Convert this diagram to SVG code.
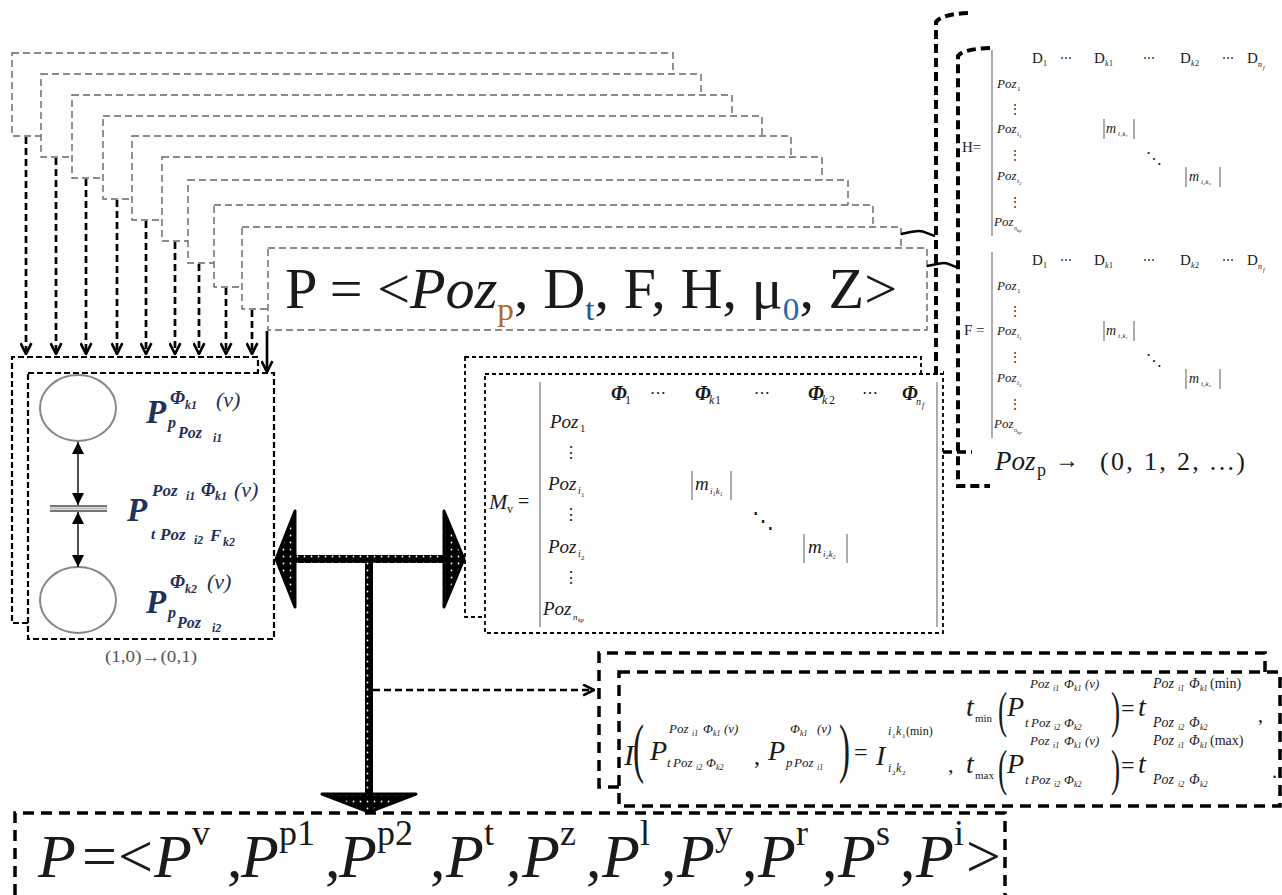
<svg xmlns="http://www.w3.org/2000/svg" width="1282" height="895" viewBox="0 0 1282 895">
<defs>
<style>
text{font-family:"Liberation Serif","DejaVu Serif",serif;fill:#1a1a1a}
.it{font-style:italic}
.b{font-weight:bold}
.nest{fill:#fff;stroke:#666;stroke-width:1.4;stroke-dasharray:7 4}
.arr{fill:none;stroke:#000;stroke-width:2.7;stroke-dasharray:7 4;marker-end:url(#v)}
.pbox{fill:#fff;stroke:#000;stroke-width:2.2;stroke-dasharray:6 3}
.mbox{fill:#fff;stroke:#000;stroke-width:1.8;stroke-dasharray:4 3}
.ibox{fill:#fff;stroke:#000;stroke-width:3.5;stroke-dasharray:11 7}
.brk{fill:none;stroke:#000;stroke-width:4;stroke-dasharray:9 5}
.bar{stroke:#777;stroke-width:1.2}
.pl text{fill:#22305a}
.sq{fill:none;stroke:#000;stroke-width:2.5}
.bf{font-size:62px}
.bf .s{font-size:36px}
</style>
<marker id="v" viewBox="0 0 12 12" refX="11" refY="6" markerWidth="13" markerHeight="13" markerUnits="userSpaceOnUse" orient="auto"><path d="M1,1 L11,6 L1,11" fill="none" stroke="#000" stroke-width="2.4"/></marker>
<marker id="tri" viewBox="0 0 10 10" refX="10" refY="5" markerWidth="12" markerHeight="12" markerUnits="userSpaceOnUse" orient="auto-start-reverse"><path d="M0,0 L10,5 L0,10Z" fill="#000"/></marker>
<pattern id="dots" width="7" height="7" patternUnits="userSpaceOnUse"><rect width="7" height="7" fill="#000"/><circle cx="3.5" cy="3.5" r="0.9" fill="#fff"/></pattern>
<g id="dm">
<line class="bar" x1="992" y1="252" x2="992" y2="438"/>
<text x="1032" y="265" font-size="15">D</text><text x="1043" y="268" font-size="8">1</text>
<text x="1060" y="264" font-size="12">⋯</text>
<text x="1094" y="265" font-size="15">D</text><text x="1105" y="268" font-size="8" class="it">k</text><text x="1109" y="268" font-size="8">1</text>
<text x="1143" y="264" font-size="12">⋯</text>
<text x="1180" y="265" font-size="15">D</text><text x="1191" y="268" font-size="8" class="it">k</text><text x="1195" y="268" font-size="8">2</text>
<text x="1222" y="264" font-size="12">⋯</text>
<text x="1247" y="265" font-size="15">D</text><text x="1258" y="269" font-size="8" class="it">n</text><text x="1263" y="272" font-size="6" class="it">f</text>
<text x="997" y="290" font-size="13" class="it">Poz</text><text x="1017" y="293" font-size="7">1</text>
<text x="1009" y="315" font-size="12">⋮</text>
<text x="997" y="335" font-size="13" class="it">Poz</text><text x="1017" y="338" font-size="7" class="it">i</text><text x="1019" y="340" font-size="5">1</text>
<text x="1009" y="361" font-size="12">⋮</text>
<text x="997" y="382" font-size="13" class="it">Poz</text><text x="1017" y="385" font-size="7" class="it">i</text><text x="1019" y="387" font-size="5">2</text>
<text x="1009" y="408" font-size="12">⋮</text>
<text x="994" y="428" font-size="13" class="it">Poz</text><text x="1014" y="432" font-size="6" class="it">n</text><text x="1017" y="434" font-size="5" class="it">kp</text>
<line class="bar" x1="1104" y1="321" x2="1104" y2="341"/><line class="bar" x1="1134" y1="321" x2="1134" y2="341"/>
<text x="1106" y="335" font-size="14" class="it">m</text><text x="1118" y="338" font-size="7" class="it">i₁k₁</text>
<text x="1146" y="366" font-size="16">⋱</text>
<line class="bar" x1="1186" y1="369" x2="1186" y2="389"/><line class="bar" x1="1220" y1="369" x2="1220" y2="389"/>
<text x="1189" y="383" font-size="14" class="it">m</text><text x="1201" y="386" font-size="7" class="it">i₂k₂</text>
</g>
</defs>

<g id="nested">
<rect class="nest" x="12" y="53" width="661" height="83"/>
<rect class="nest" x="41" y="74" width="660" height="83"/>
<rect class="nest" x="72" y="95" width="660" height="83"/>
<rect class="nest" x="103" y="116" width="659" height="83"/>
<rect class="nest" x="132" y="136" width="659" height="84"/>
<rect class="nest" x="162" y="157" width="660" height="84"/>
<rect class="nest" x="188" y="180" width="660" height="83"/>
<rect class="nest" x="214" y="205" width="659" height="82"/>
<rect class="nest" x="242" y="227" width="659" height="82"/>
</g>

<g id="pformula">
<rect class="nest" x="268" y="248" width="659" height="82"/>
<text x="285" y="308" font-size="56" textLength="612" lengthAdjust="spacingAndGlyphs">P = &lt;<tspan class="it">Poz</tspan><tspan font-size="32" dy="12" fill="#b06a2a">p</tspan><tspan dy="-12">, D</tspan><tspan font-size="32" dy="12" fill="#2a4f8f">t</tspan><tspan dy="-12">, F, H, μ</tspan><tspan font-size="32" dy="12" fill="#2a63b0">0</tspan><tspan dy="-12">, Z&gt;</tspan></text>
</g>

<g id="petri" class="pl">
<path class="pbox" d="M28,623 H12 V357 H258 V373"/>
<rect class="pbox" x="28" y="373" width="246" height="266"/>
<ellipse cx="78" cy="408" rx="38" ry="33" fill="none" stroke="#888" stroke-width="2"/>
<ellipse cx="78" cy="600" rx="38" ry="33" fill="none" stroke="#888" stroke-width="2"/>
<line x1="50" y1="506" x2="107" y2="506" stroke="#777" stroke-width="2"/>
<line x1="50" y1="511" x2="107" y2="511" stroke="#777" stroke-width="2"/>
<line x1="50" y1="508.5" x2="107" y2="508.5" stroke="#bbb" stroke-width="2"/>
<line x1="78" y1="442" x2="78" y2="505" stroke="#222" stroke-width="1.6" marker-start="url(#tri)" marker-end="url(#tri)"/>
<line x1="78" y1="512" x2="78" y2="567" stroke="#222" stroke-width="1.6" marker-start="url(#tri)" marker-end="url(#tri)"/>
<text x="146" y="423" font-size="33" class="it b">P</text>
<text x="170" y="404" font-size="19" class="it b">Φ</text><text x="185" y="409" font-size="12" class="it b">k1</text><text x="216" y="407" font-size="22" class="it">(ν)</text>
<text x="168" y="428" font-size="16" class="it b">p</text><text x="178" y="438" font-size="16" class="it b">Poz</text><text x="213" y="442" font-size="12" class="it b">i1</text>
<text x="127" y="521" font-size="33" class="it b">P</text>
<text x="152" y="496" font-size="17" class="it b">Poz</text><text x="186" y="500" font-size="12" class="it b">i1</text><text x="201" y="496" font-size="18" class="it b">Φ</text><text x="215" y="500" font-size="12" class="it b">k1</text><text x="234" y="497" font-size="22" class="it">(ν)</text>
<text x="151" y="539" font-size="15" class="it b">t</text><text x="160" y="540" font-size="17" class="it b">Poz</text><text x="194" y="544" font-size="12" class="it b">i2</text><text x="210" y="541" font-size="17" class="it b">F</text><text x="223" y="546" font-size="12" class="it b">k2</text>
<text x="146" y="613" font-size="33" class="it b">P</text>
<text x="170" y="588" font-size="19" class="it b">Φ</text><text x="185" y="593" font-size="12" class="it b">k2</text><text x="207" y="589" font-size="22" class="it">(ν)</text>
<text x="168" y="618" font-size="16" class="it b">p</text><text x="177" y="628" font-size="16" class="it b">Poz</text><text x="212" y="632" font-size="12" class="it b">i2</text>
<text x="105" y="662" font-size="16" textLength="92" lengthAdjust="spacingAndGlyphs" style="fill:#555">(1,0)→(0,1)</text>
</g>

<g id="mv">
<rect class="mbox" x="465" y="357" width="456" height="260"/>
<rect class="mbox" x="485" y="374" width="458" height="259"/>
<line class="bar" x1="540" y1="382" x2="540" y2="627"/>
<line class="bar" x1="937" y1="382" x2="937" y2="627"/>
<text x="489" y="509" font-size="22" class="it">M</text><text x="507" y="513" font-size="12">v</text><text x="518" y="508" font-size="20">=</text>
<text x="611" y="400" font-size="20" class="it b">Φ</text><text x="625" y="404" font-size="12">1</text>
<text x="650" y="398" font-size="16">⋯</text>
<text x="695" y="400" font-size="20" class="it b">Φ</text><text x="709" y="404" font-size="12" class="it">k</text><text x="715" y="404" font-size="12">1</text>
<text x="754" y="398" font-size="16">⋯</text>
<text x="808" y="400" font-size="20" class="it b">Φ</text><text x="822" y="404" font-size="12" class="it">k</text><text x="829" y="404" font-size="12">2</text>
<text x="862" y="398" font-size="16">⋯</text>
<text x="902" y="400" font-size="20" class="it b">Φ</text><text x="916" y="405" font-size="10" class="it">n</text><text x="922" y="408" font-size="8" class="it">f</text>
<text x="550" y="428" font-size="19" class="it">Poz</text><text x="580" y="432" font-size="11">1</text>
<text x="563" y="458" font-size="16">⋮</text>
<text x="548" y="490" font-size="19" class="it">Poz</text><text x="578" y="494" font-size="10" class="it">i</text><text x="581" y="497" font-size="7">1</text>
<text x="563" y="520" font-size="16">⋮</text>
<text x="548" y="553" font-size="19" class="it">Poz</text><text x="578" y="557" font-size="10" class="it">i</text><text x="581" y="560" font-size="7">2</text>
<text x="563" y="583" font-size="16">⋮</text>
<text x="543" y="615" font-size="19" class="it">Poz</text><text x="573" y="620" font-size="9" class="it">n</text><text x="578" y="622" font-size="6" class="it">kp</text>
<line class="bar" x1="692" y1="471" x2="692" y2="500"/><line class="bar" x1="731" y1="471" x2="731" y2="500"/>
<text x="695" y="490" font-size="19" class="it">m</text><text x="710" y="494" font-size="9" class="it">i₁k₁</text>
<text x="752" y="528" font-size="22">⋱</text>
<line class="bar" x1="804" y1="534" x2="804" y2="563"/><line class="bar" x1="847" y1="534" x2="847" y2="563"/>
<text x="808" y="553" font-size="19" class="it">m</text><text x="823" y="557" font-size="9" class="it">i₂k₂</text>
</g>

<g id="hmatrix">
<use href="#dm" transform="translate(0,-202)"/>
<text x="962" y="152" font-size="15">H=</text>
</g>
<g id="fmatrix">
<use href="#dm"/>
<text x="964" y="335" font-size="15">F =</text>
</g>

<g id="pozp">
<text x="995" y="470" font-size="27" class="it">Poz</text><text x="1037" y="476" font-size="18">p</text>
<text x="1055" y="468" font-size="24">→</text>
<text x="1100" y="470" font-size="26" textLength="145" lengthAdjust="spacing">(0,  1,  2,  ...)</text>
</g>

<g id="iformula">
<path class="ibox" d="M619,787 H599 V653 H1265 V672"/>
<rect class="ibox" x="619" y="672" width="661" height="134"/>
<text x="624" y="765" font-size="30" class="it">I</text>
<text transform="translate(633,770) scale(0.5,1)" font-size="66">(</text>
<text x="650" y="760" font-size="28" class="it">P</text>
<text x="669" y="733" font-size="13" class="it">Poz</text><text x="692" y="736" font-size="8" class="it">i1</text><text x="703" y="733" font-size="13" class="it">Φ</text><text x="713" y="736" font-size="8" class="it">k1</text><text x="724" y="733" font-size="13" class="it">(ν)</text>
<text x="667" y="767" font-size="13" class="it">t</text><text x="673" y="767" font-size="13" class="it">Poz</text><text x="696" y="770" font-size="8" class="it">i2</text><text x="706" y="767" font-size="13" class="it">Φ</text><text x="716" y="770" font-size="8" class="it">k2</text>
<text x="754" y="764" font-size="24">,</text>
<text x="768" y="760" font-size="28" class="it">P</text>
<text x="790" y="733" font-size="13" class="it">Φ</text><text x="800" y="736" font-size="8" class="it">k1</text><text x="817" y="733" font-size="13" class="it">(ν)</text>
<text x="786" y="767" font-size="13" class="it">p</text><text x="794" y="767" font-size="13" class="it">Poz</text><text x="817" y="770" font-size="8" class="it">i1</text>
<text transform="translate(839,770) scale(0.5,1)" font-size="66">)</text>
<text x="854" y="760" font-size="24">=</text>
<text x="876" y="765" font-size="28" class="it">I</text>
<text x="888" y="735" font-size="12" class="it">i</text><text x="892" y="738" font-size="7">1</text><text x="896" y="735" font-size="12" class="it">k</text><text x="902" y="738" font-size="7">1</text><text x="906" y="735" font-size="12">(min)</text>
<text x="888" y="772" font-size="12" class="it">i</text><text x="892" y="775" font-size="7">2</text><text x="896" y="772" font-size="12" class="it">k</text><text x="902" y="775" font-size="7">2</text>
<text x="948" y="772" font-size="22">,</text>

<text x="966" y="716" font-size="28" class="it">t</text><text x="975" y="722" font-size="11">min</text>
<text transform="translate(998,727) scale(0.55,1)" font-size="50">(</text>
<text x="1007" y="716" font-size="28" class="it">P</text>
<text x="1030" y="688" font-size="13" class="it">Poz</text><text x="1053" y="691" font-size="8" class="it">i1</text><text x="1064" y="688" font-size="13" class="it">Φ</text><text x="1074" y="691" font-size="8" class="it">k1</text><text x="1085" y="688" font-size="13" class="it">(ν)</text>
<text x="1025" y="727" font-size="13" class="it">t</text><text x="1031" y="727" font-size="13" class="it">Poz</text><text x="1054" y="730" font-size="8" class="it">i2</text><text x="1064" y="727" font-size="13" class="it">Φ</text><text x="1074" y="730" font-size="8" class="it">k2</text>
<text transform="translate(1111,727) scale(0.55,1)" font-size="50">)</text>
<text x="1121" y="716" font-size="24">=</text>
<text x="1138" y="716" font-size="28" class="it">t</text>
<text x="1153" y="688" font-size="14" class="it">Poz</text><text x="1178" y="691" font-size="8" class="it">i1</text><text x="1189" y="688" font-size="14" class="it">Φ</text><text x="1200" y="691" font-size="8" class="it">k1</text><text x="1210" y="688" font-size="14">(min)</text>
<text x="1153" y="727" font-size="14" class="it">Poz</text><text x="1178" y="730" font-size="8" class="it">i2</text><text x="1189" y="727" font-size="14" class="it">Φ</text><text x="1200" y="730" font-size="8" class="it">k2</text>
<text x="1258" y="722" font-size="20">,</text>

<text x="966" y="773" font-size="28" class="it">t</text><text x="975" y="779" font-size="11">max</text>
<text transform="translate(998,785) scale(0.55,1)" font-size="50">(</text>
<text x="1007" y="773" font-size="28" class="it">P</text>
<text x="1030" y="745" font-size="13" class="it">Poz</text><text x="1053" y="748" font-size="8" class="it">i1</text><text x="1064" y="745" font-size="13" class="it">Φ</text><text x="1074" y="748" font-size="8" class="it">k1</text><text x="1085" y="745" font-size="13" class="it">(ν)</text>
<text x="1025" y="784" font-size="13" class="it">t</text><text x="1031" y="784" font-size="13" class="it">Poz</text><text x="1054" y="787" font-size="8" class="it">i2</text><text x="1064" y="784" font-size="13" class="it">Φ</text><text x="1074" y="787" font-size="8" class="it">k2</text>
<text transform="translate(1111,785) scale(0.55,1)" font-size="50">)</text>
<text x="1121" y="773" font-size="24">=</text>
<text x="1138" y="773" font-size="28" class="it">t</text>
<text x="1153" y="745" font-size="14" class="it">Poz</text><text x="1178" y="748" font-size="8" class="it">i1</text><text x="1189" y="745" font-size="14" class="it">Φ</text><text x="1200" y="748" font-size="8" class="it">k1</text><text x="1210" y="745" font-size="14">(max)</text>
<text x="1153" y="784" font-size="14" class="it">Poz</text><text x="1178" y="787" font-size="8" class="it">i2</text><text x="1189" y="784" font-size="14" class="it">Φ</text><text x="1200" y="787" font-size="8" class="it">k2</text>
<text x="1272" y="778" font-size="20">.</text>
</g>

<g id="bottomformula" class="bf">
<path class="ibox" d="M15,895 V813 H1005 V895"/>
<text x="38" y="877"><tspan class="it">P</tspan><tspan x="82">=</tspan><tspan x="118">&lt;</tspan><tspan x="154" class="it">P</tspan><tspan x="192" dy="-32" class="s">v</tspan></text>
<text x="227" y="877">,<tspan x="241" class="it">P</tspan><tspan x="279" dy="-32" class="s">p1</tspan></text>
<text x="325" y="877">,<tspan x="339" class="it">P</tspan><tspan x="377" dy="-32" class="s">p2</tspan></text>
<text x="430" y="877">,<tspan x="446" class="it">P</tspan><tspan x="484" dy="-32" class="s">t</tspan></text>
<text x="506" y="877">,<tspan x="522" class="it">P</tspan><tspan x="560" dy="-32" class="s">z</tspan></text>
<text x="586" y="877">,<tspan x="602" class="it">P</tspan><tspan x="640" dy="-32" class="s">l</tspan></text>
<text x="661" y="877">,<tspan x="677" class="it">P</tspan><tspan x="715" dy="-32" class="s">y</tspan></text>
<text x="742" y="877">,<tspan x="758" class="it">P</tspan><tspan x="796" dy="-32" class="s">r</tspan></text>
<text x="822" y="877">,<tspan x="838" class="it">P</tspan><tspan x="876" dy="-32" class="s">s</tspan></text>
<text x="900" y="877">,<tspan x="916" class="it">P</tspan><tspan x="954" dy="-32" class="s">i</tspan><tspan x="966" dy="32">&gt;</tspan></text>
</g>

<g id="brackets">
<path class="brk" d="M968,13 Q942,14 936,22 V373 H944"/>
<path class="brk" d="M990,48 Q963,49 958,56 V486 H990"/>
</g>

<g id="tarrow">
<rect x="294" y="555" width="151" height="8" fill="url(#dots)"/>
<rect x="365" y="559" width="8" height="236" fill="url(#dots)"/>
<path d="M276,559 L295,511 L295,607 Z" fill="url(#dots)" stroke="#000" stroke-width="3" stroke-linejoin="round"/>
<path d="M464,559 L444,511 L444,607 Z" fill="url(#dots)" stroke="#000" stroke-width="3" stroke-linejoin="round"/>
<path d="M322,794 L416,794 L369,812 Z" fill="url(#dots)" stroke="#000" stroke-width="3" stroke-linejoin="round"/>
</g>

<g id="connectors">
<line class="arr" x1="26" y1="137" x2="26" y2="354"/>
<line class="arr" x1="56" y1="158" x2="56" y2="354"/>
<line class="arr" x1="86" y1="179" x2="86" y2="354"/>
<line class="arr" x1="117" y1="200" x2="117" y2="354"/>
<line class="arr" x1="146" y1="221" x2="146" y2="354"/>
<line class="arr" x1="175" y1="242" x2="175" y2="354"/>
<line class="arr" x1="199" y1="264" x2="199" y2="354"/>
<line class="arr" x1="226" y1="288" x2="226" y2="354"/>
<line class="arr" x1="252" y1="310" x2="252" y2="354"/>
<line class="arr" x1="267" y1="331" x2="267" y2="372" style="stroke-dasharray:none"/>
<path class="sq" d="M901,234 c6,-1 12,-3 18,-3 c5,0 9,3 16,5"/>
<path class="sq" d="M927,266 c6,-1 12,-3 17,-3 c5,0 8,3 13,4"/>
<line x1="943" y1="452" x2="972" y2="452" stroke="#000" stroke-width="3.5" stroke-dasharray="9 5"/>
<line class="arr" x1="373" y1="690" x2="594" y2="690"/>
</g>
</svg>
